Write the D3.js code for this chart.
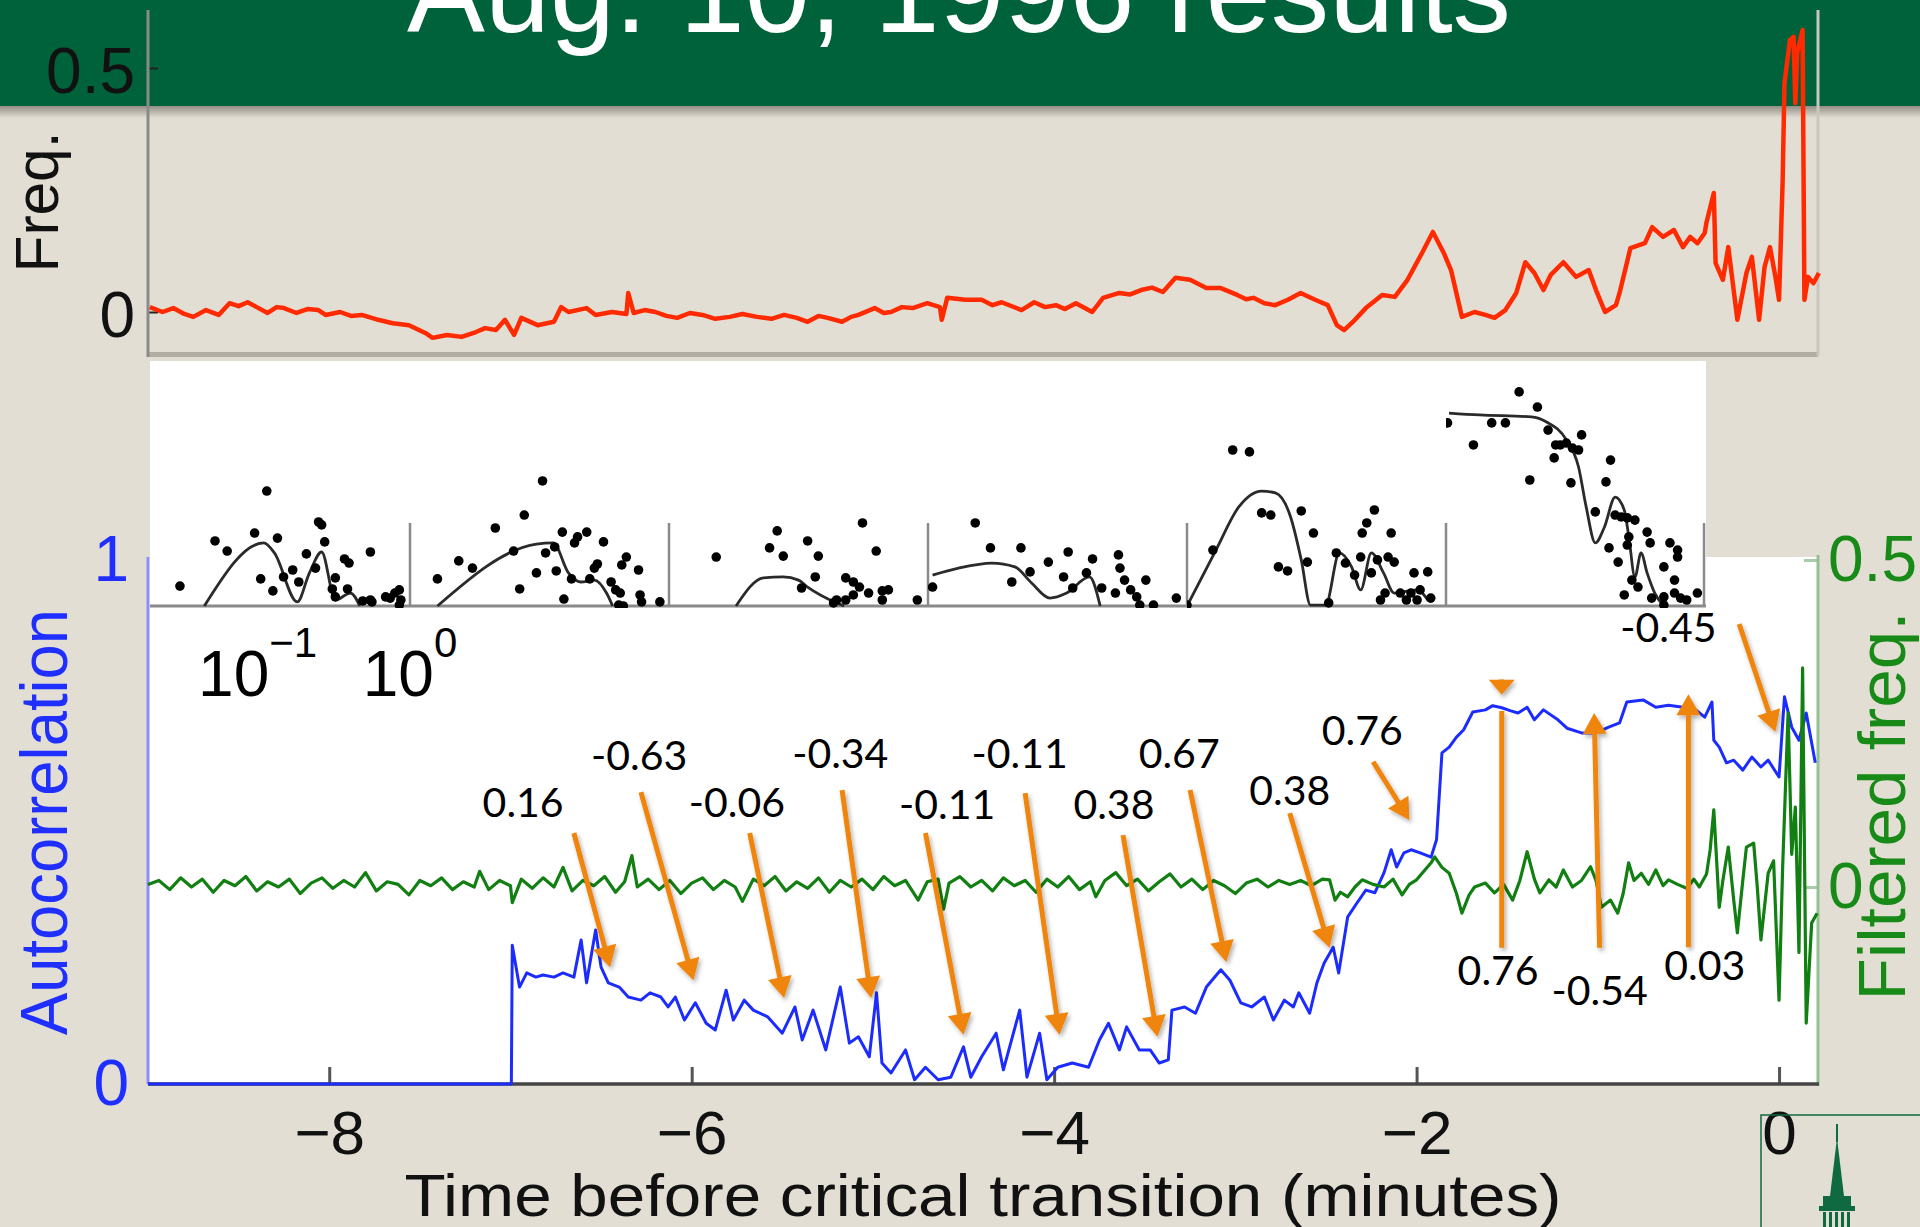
<!DOCTYPE html>
<html><head><meta charset="utf-8">
<script src="https://cdn.jsdelivr.net/npm/d3@7"></script>
<style>
html,body{margin:0;padding:0;background:#e3ded3;}
svg{display:block;}
</style></head><body>
<svg id="chart" width="1920" height="1227"></svg>
<script>
// ---------------- DATA ----------------
const titleText = "Aug. 10, 1996 results";
const xTicks = [-8, -6, -4, -2, 0];
const freqTicks = [0, 0.5];
const acTicks = [0, 1];
const filtTicks = [0, 0.5];

// top panel: frequency (red), [time (min), freq]
const freqSeries = [[-8.99,0.010],[-8.92,0.000],[-8.86,0.008],[-8.80,-0.004],[-8.75,-0.010],[-8.68,0.004],[-8.61,-0.006],[-8.55,0.018],[-8.50,0.012],[-8.45,0.020],[-8.40,0.010],[-8.34,-0.002],[-8.29,0.010],[-8.25,0.008],[-8.18,-0.002],[-8.12,0.006],[-8.06,0.004],[-8.02,-0.006],[-7.94,0.000],[-7.88,-0.008],[-7.82,-0.006],[-7.73,-0.016],[-7.65,-0.023],[-7.56,-0.027],[-7.47,-0.043],[-7.43,-0.053],[-7.35,-0.047],[-7.27,-0.051],[-7.19,-0.041],[-7.14,-0.033],[-7.08,-0.037],[-7.03,-0.016],[-6.98,-0.047],[-6.94,-0.012],[-6.85,-0.027],[-6.76,-0.020],[-6.72,0.010],[-6.68,0.000],[-6.58,0.008],[-6.53,-0.006],[-6.44,0.000],[-6.36,-0.004],[-6.35,0.039],[-6.32,-0.002],[-6.26,0.004],[-6.20,0.000],[-6.14,-0.008],[-6.08,-0.012],[-6.01,-0.002],[-5.94,-0.006],[-5.87,-0.014],[-5.79,-0.010],[-5.72,-0.004],[-5.64,-0.010],[-5.56,-0.014],[-5.49,-0.006],[-5.42,-0.012],[-5.36,-0.020],[-5.30,-0.008],[-5.25,-0.012],[-5.17,-0.020],[-5.12,-0.010],[-5.08,-0.006],[-4.99,0.008],[-4.94,-0.002],[-4.90,0.000],[-4.84,0.010],[-4.78,0.008],[-4.70,0.018],[-4.63,0.010],[-4.62,-0.016],[-4.59,0.029],[-4.49,0.025],[-4.40,0.025],[-4.34,0.014],[-4.29,0.020],[-4.18,0.004],[-4.11,0.020],[-4.05,0.010],[-3.99,0.014],[-3.94,0.006],[-3.88,0.018],[-3.79,0.000],[-3.73,0.029],[-3.64,0.039],[-3.58,0.036],[-3.52,0.045],[-3.46,0.050],[-3.40,0.041],[-3.33,0.070],[-3.25,0.066],[-3.16,0.049],[-3.08,0.049],[-2.99,0.035],[-2.94,0.026],[-2.90,0.029],[-2.84,0.018],[-2.78,0.014],[-2.71,0.025],[-2.64,0.039],[-2.56,0.025],[-2.49,0.014],[-2.44,-0.027],[-2.40,-0.037],[-2.34,-0.016],[-2.28,0.008],[-2.19,0.035],[-2.12,0.031],[-2.05,0.066],[-1.97,0.121],[-1.91,0.164],[-1.85,0.121],[-1.81,0.086],[-1.75,-0.010],[-1.68,0.000],[-1.62,-0.006],[-1.57,-0.012],[-1.51,0.004],[-1.45,0.039],[-1.40,0.102],[-1.35,0.080],[-1.30,0.045],[-1.26,0.076],[-1.19,0.102],[-1.12,0.072],[-1.05,0.086],[-1.01,0.045],[-0.96,0.000],[-0.90,0.014],[-0.88,0.039],[-0.82,0.131],[-0.74,0.141],[-0.70,0.174],[-0.64,0.154],[-0.58,0.168],[-0.53,0.133],[-0.49,0.154],[-0.45,0.141],[-0.41,0.162],[-0.40,0.184],[-0.36,0.244],[-0.35,0.100],[-0.31,0.066],[-0.28,0.133],[-0.23,-0.016],[-0.18,0.080],[-0.15,0.113],[-0.11,-0.016],[-0.08,0.092],[-0.05,0.133],[-0.02,0.072],[0.00,0.025],[0.02,0.270],[0.03,0.469],[0.06,0.557],[0.08,0.564],[0.09,0.428],[0.10,0.531],[0.13,0.578],[0.14,0.025],[0.16,0.072],[0.19,0.059],[0.22,0.080]];

// bottom panel: autocorrelation (blue), [time, autocorrelation]
const acSeries = [[-9.00,0],[-6.995,0],[-6.99,0.265],[-6.95,0.185],[-6.91,0.212],[-6.86,0.204],[-6.82,0.208],[-6.76,0.204],[-6.71,0.212],[-6.65,0.204],[-6.61,0.275],[-6.58,0.193],[-6.53,0.294],[-6.50,0.223],[-6.46,0.193],[-6.40,0.185],[-6.35,0.166],[-6.28,0.160],[-6.23,0.174],[-6.17,0.166],[-6.13,0.147],[-6.09,0.166],[-6.04,0.122],[-5.98,0.155],[-5.92,0.116],[-5.87,0.103],[-5.81,0.179],[-5.77,0.122],[-5.71,0.160],[-5.66,0.141],[-5.58,0.128],[-5.50,0.097],[-5.43,0.147],[-5.39,0.084],[-5.33,0.141],[-5.26,0.065],[-5.18,0.185],[-5.13,0.078],[-5.08,0.090],[-5.02,0.052],[-4.98,0.174],[-4.95,0.040],[-4.90,0.021],[-4.82,0.065],[-4.77,0.008],[-4.71,0.032],[-4.64,0.008],[-4.57,0.013],[-4.50,0.071],[-4.46,0.013],[-4.40,0.052],[-4.32,0.097],[-4.28,0.027],[-4.19,0.141],[-4.15,0.013],[-4.08,0.097],[-4.04,0.008],[-3.98,0.032],[-3.90,0.040],[-3.81,0.032],[-3.75,0.084],[-3.70,0.116],[-3.64,0.065],[-3.60,0.109],[-3.53,0.065],[-3.47,0.065],[-3.42,0.040],[-3.37,0.046],[-3.35,0.141],[-3.28,0.147],[-3.22,0.135],[-3.16,0.185],[-3.08,0.218],[-3.03,0.198],[-2.97,0.155],[-2.91,0.147],[-2.84,0.166],[-2.79,0.122],[-2.73,0.160],[-2.68,0.147],[-2.65,0.174],[-2.59,0.135],[-2.55,0.193],[-2.51,0.231],[-2.46,0.261],[-2.43,0.212],[-2.38,0.319],[-2.33,0.345],[-2.28,0.370],[-2.23,0.365],[-2.18,0.403],[-2.14,0.447],[-2.11,0.414],[-2.07,0.441],[-2.03,0.447],[-1.98,0.441],[-1.92,0.433],[-1.89,0.466],[-1.86,0.632],[-1.82,0.643],[-1.78,0.662],[-1.74,0.676],[-1.69,0.710],[-1.62,0.714],[-1.58,0.722],[-1.53,0.718],[-1.48,0.712],[-1.44,0.708],[-1.39,0.719],[-1.35,0.695],[-1.30,0.714],[-1.22,0.695],[-1.17,0.679],[-1.09,0.670],[-1.01,0.670],[-0.94,0.681],[-0.88,0.689],[-0.84,0.729],[-0.75,0.733],[-0.68,0.719],[-0.61,0.723],[-0.53,0.719],[-0.46,0.714],[-0.41,0.700],[-0.37,0.729],[-0.36,0.656],[-0.33,0.643],[-0.29,0.613],[-0.25,0.618],[-0.20,0.599],[-0.15,0.624],[-0.10,0.605],[-0.06,0.618],[0.00,0.586],[0.03,0.739],[0.07,0.681],[0.11,0.656],[0.15,0.708],[0.20,0.613]];

// bottom panel: filtered frequency (green), [time, filtered freq]
const filtSeries = [[-9.00,0.004],[-8.94,0.010],[-8.88,-0.004],[-8.82,0.014],[-8.76,0.000],[-8.70,0.012],[-8.64,-0.008],[-8.58,0.010],[-8.52,0.002],[-8.46,0.016],[-8.40,-0.006],[-8.34,0.008],[-8.28,0.000],[-8.22,0.012],[-8.16,-0.010],[-8.10,0.006],[-8.04,0.014],[-7.98,-0.002],[-7.92,0.010],[-7.86,0.000],[-7.80,0.022],[-7.74,-0.006],[-7.68,0.008],[-7.62,0.004],[-7.56,-0.012],[-7.50,0.010],[-7.44,0.002],[-7.38,0.014],[-7.32,-0.004],[-7.26,0.008],[-7.20,0.000],[-7.17,0.024],[-7.12,-0.004],[-7.06,0.010],[-7.00,0.002],[-6.99,-0.024],[-6.94,0.012],[-6.88,-0.002],[-6.82,0.014],[-6.76,0.000],[-6.71,0.030],[-6.66,-0.006],[-6.60,0.010],[-6.54,0.002],[-6.48,0.016],[-6.42,-0.008],[-6.37,0.008],[-6.33,0.048],[-6.30,0.000],[-6.24,0.012],[-6.18,-0.004],[-6.12,0.010],[-6.06,-0.010],[-6.00,0.006],[-5.94,0.014],[-5.88,-0.004],[-5.82,0.010],[-5.76,0.000],[-5.72,-0.022],[-5.66,0.012],[-5.60,0.002],[-5.54,0.016],[-5.48,-0.006],[-5.42,0.008],[-5.36,-0.002],[-5.30,0.014],[-5.24,-0.008],[-5.18,0.010],[-5.12,0.000],[-5.06,0.012],[-5.00,-0.004],[-4.94,0.016],[-4.88,0.002],[-4.82,0.010],[-4.75,-0.020],[-4.70,0.008],[-4.64,0.012],[-4.61,-0.034],[-4.58,0.006],[-4.52,0.016],[-4.46,0.000],[-4.40,0.010],[-4.34,-0.006],[-4.28,0.014],[-4.22,0.002],[-4.16,0.010],[-4.10,-0.008],[-4.04,0.012],[-3.98,0.000],[-3.92,0.016],[-3.86,-0.004],[-3.80,0.008],[-3.77,-0.015],[-3.72,0.010],[-3.66,0.022],[-3.60,0.002],[-3.54,0.012],[-3.48,-0.006],[-3.42,0.008],[-3.36,0.020],[-3.30,0.000],[-3.24,0.012],[-3.18,-0.004],[-3.12,0.010],[-3.06,0.002],[-3.00,-0.010],[-2.94,0.006],[-2.88,0.012],[-2.82,0.000],[-2.76,0.010],[-2.70,0.004],[-2.64,0.010],[-2.58,0.002],[-2.52,0.012],[-2.48,0.011],[-2.45,-0.020],[-2.42,-0.008],[-2.38,-0.015],[-2.34,0.000],[-2.30,0.011],[-2.24,0.004],[-2.18,0.000],[-2.13,0.012],[-2.08,-0.012],[-2.04,0.004],[-2.00,0.011],[-1.96,0.024],[-1.92,0.037],[-1.90,0.046],[-1.86,0.030],[-1.82,0.021],[-1.78,-0.010],[-1.75,-0.040],[-1.71,-0.012],[-1.68,0.000],[-1.62,0.006],[-1.57,-0.009],[-1.52,0.004],[-1.47,-0.020],[-1.43,0.010],[-1.39,0.054],[-1.35,0.012],[-1.32,-0.009],[-1.27,0.011],[-1.23,0.000],[-1.19,0.026],[-1.14,0.000],[-1.09,0.010],[-1.04,0.031],[-1.01,0.010],[-0.98,-0.031],[-0.93,-0.020],[-0.89,-0.040],[-0.86,-0.010],[-0.83,0.037],[-0.80,0.010],[-0.76,0.021],[-0.72,0.004],[-0.68,0.026],[-0.64,0.002],[-0.61,0.011],[-0.56,0.004],[-0.51,-0.002],[-0.47,0.012],[-0.44,0.000],[-0.40,0.020],[-0.38,0.057],[-0.36,0.118],[-0.33,-0.031],[-0.31,0.010],[-0.28,0.061],[-0.25,-0.020],[-0.23,-0.070],[-0.20,0.010],[-0.18,0.061],[-0.14,0.067],[-0.12,0.000],[-0.10,-0.081],[-0.06,0.021],[-0.03,0.040],[0.00,-0.173],[0.02,0.031],[0.05,0.266],[0.07,0.050],[0.09,0.122],[0.11,-0.100],[0.13,0.335],[0.15,-0.208],[0.18,-0.055],[0.21,-0.040]];

// inset ACF panels: [log10(lag), acf]
const dotsPanel1 = [[-1.51,0.083],[-1.28,0.271],[-1.20,0.229],[-1.02,0.304],[-0.94,0.479],[-0.87,0.283],[-0.98,0.113],[-0.90,0.063],[-0.83,0.121],[-0.77,0.150],[-0.73,0.100],[-0.68,0.217],[-0.60,0.350],[-0.58,0.338],[-0.56,0.267],[-0.62,0.158],[-0.51,0.071],[-0.49,0.117],[-0.43,0.196],[-0.40,0.179],[-0.41,0.071],[-0.49,0.038],[-0.26,0.225],[-0.31,0.021],[-0.26,0.025],[-0.16,0.038],[-0.10,0.054],[-0.07,0.067],[-0.07,0.004],[-0.13,0.033],[-0.25,0.017],[-0.06,0.025]];
const fitPanel1 = [[-1.35,0],[-0.96,0.263],[-0.89,0.221],[-0.74,0.017],[-0.66,0.138],[-0.58,0.225],[-0.49,0.025],[-0.39,0.054],[-0.33,0]];
const dotsPanel2 = [[-1.52,0.113],[-1.38,0.188],[-1.29,0.158],[-1.14,0.325],[-1.02,0.229],[-0.95,0.379],[-0.83,0.521],[-0.98,0.071],[-0.87,0.138],[-0.81,0.221],[-0.74,0.146],[-0.70,0.308],[-0.75,0.246],[-0.62,0.263],[-0.60,0.288],[-0.54,0.308],[-0.43,0.267],[-0.64,0.113],[-0.52,0.113],[-0.47,0.175],[-0.31,0.171],[-0.28,0.204],[-0.20,0.150],[-0.38,0.100],[-0.35,0.067],[-0.32,0.054],[-0.33,0.004],[-0.30,0.000],[-0.19,0.046],[-0.18,0.017],[-0.06,0.017],[-0.69,0.029],[-0.49,0.158]];
const fitPanel2 = [[-1.52,0],[-0.87,0.258],[-0.76,0.263],[-0.66,0.138],[-0.58,0.100],[-0.49,0.108],[-0.41,0.054],[-0.37,0]];
const dotsPanel3 = [[-1.39,0.204],[-0.99,0.313],[-1.04,0.242],[-0.95,0.208],[-0.79,0.271],[-0.72,0.208],[-0.74,0.121],[-0.62,0.013],[-0.43,0.346],[-0.34,0.229],[-0.54,0.117],[-0.49,0.100],[-0.45,0.079],[-0.60,0.025],[-0.39,0.054],[-0.30,0.025],[-0.26,0.067],[-0.07,0.025],[-0.49,0.046],[-0.83,0.075],[-0.54,0.025],[-0.30,0.063]];
const fitPanel3 = [[-1.26,0],[-1.08,0.117],[-0.95,0.121],[-0.85,0.108],[-0.79,0.079],[-0.60,0.013],[-0.55,0]];
const dotsPanel4 = [[-1.67,0.079],[-1.39,0.346],[-1.29,0.242],[-1.09,0.242],[-1.15,0.100],[-1.03,0.142],[-0.91,0.183],[-0.81,0.121],[-0.78,0.225],[-0.75,0.075],[-0.66,0.138],[-0.62,0.196],[-0.56,0.075],[-0.45,0.213],[-0.44,0.158],[-0.41,0.108],[-0.37,0.067],[-0.33,0.038],[-0.27,0.108],[-0.31,0.004],[-0.22,0.004],[-0.07,0.033],[-0.47,0.054]];
const fitPanel4 = [[-1.67,0.129],[-1.50,0.158],[-1.28,0.179],[-1.13,0.163],[-1.02,0.096],[-0.90,0.033],[-0.79,0.054],[-0.64,0.121],[-0.57,0]];
const dotsPanel5 = [[-1.70,0.004],[-1.53,0.233],[-1.40,0.650],[-1.29,0.642],[-1.21,0.388],[-1.15,0.379],[-0.95,0.396],[-0.87,0.304],[-0.91,0.183],[-1.10,0.163],[-1.04,0.146],[-0.77,0.013],[-0.72,0.221],[-0.66,0.179],[-0.56,0.204],[-0.55,0.304],[-0.52,0.346],[-0.47,0.400],[-0.45,0.192],[-0.36,0.304],[-0.38,0.204],[-0.34,0.183],[-0.60,0.129],[-0.49,0.138],[-0.40,0.054],[-0.30,0.054],[-0.23,0.054],[-0.21,0.138],[-0.17,0.067],[-0.12,0.142],[-0.10,0.033],[-0.19,0.025],[-0.43,0.025],[-0.26,0.025]];
const fitPanel5 = [[-1.70,0],[-1.51,0.233],[-1.36,0.413],[-1.21,0.479],[-1.12,0.471],[-1.02,0.371],[-0.95,0.192],[-0.89,0.004],[-0.79,0.004],[-0.70,0.221],[-0.62,0.163],[-0.56,0.067],[-0.49,0.221],[-0.41,0.138],[-0.34,0.054],[-0.19,0.067],[-0.12,0.025]];
const dotsPanel6 = [[-1.69,0.763],[-1.52,0.671],[-1.40,0.763],[-1.31,0.763],[-1.22,0.892],[-1.10,0.829],[-1.03,0.733],[-0.98,0.671],[-0.95,0.671],[-0.91,0.679],[-0.81,0.713],[-0.87,0.658],[-0.99,0.617],[-1.15,0.525],[-0.88,0.513],[-0.83,0.650],[-0.72,0.392],[-0.65,0.517],[-0.62,0.608],[-0.59,0.379],[-0.55,0.371],[-0.51,0.367],[-0.46,0.358],[-0.38,0.308],[-0.50,0.288],[-0.63,0.242],[-0.51,0.254],[-0.36,0.263],[-0.23,0.263],[-0.18,0.233],[-0.18,0.204],[-0.57,0.183],[-0.27,0.163],[-0.20,0.108],[-0.48,0.108],[-0.53,0.046],[-0.44,0.079],[-0.35,0.033],[-0.27,0.038],[-0.20,0.054],[-0.16,0.033],[-0.12,0.025],[-0.05,0.054],[-0.27,0.004]];
const fitPanel6 = [[-1.68,0.804],[-1.48,0.796],[-1.14,0.788],[-1.04,0.767],[-0.91,0.692],[-0.83,0.579],[-0.78,0.413],[-0.72,0.263],[-0.66,0.329],[-0.59,0.454],[-0.53,0.400],[-0.50,0.288],[-0.46,0.121],[-0.42,0.221],[-0.38,0.138],[-0.33,0.054],[-0.27,0]];
const insetLabelExps = [-1, 0];

// orange annotations (time, autocorrelation coordinates)
const annLabels = ["0.16","-0.63","-0.06","-0.34","-0.11","-0.11","0.38","0.67","0.38","0.76","0.76","-0.54","0.03","-0.45"];
const annTextAt = [[-6.93,0.538],[-6.29,0.628],[-5.75,0.538],[-5.18,0.632],[-4.59,0.534],[-4.19,0.632],[-3.67,0.534],[-3.31,0.632],[-2.70,0.561],[-2.30,0.676],[-1.55,0.218],[-0.99,0.179],[-0.41,0.227],[-0.61,0.872]];
const annFrom = [[-6.65,0.479],[-6.28,0.557],[-5.68,0.479],[-5.17,0.561],[-4.71,0.479],[-4.16,0.555],[-3.62,0.475],[-3.25,0.561],[-2.70,0.517],[-2.24,0.615],[-1.53,0.260],[-0.99,0.260],[-0.50,0.261],[-0.22,0.878]];
const annTo = [[-6.45,0.223],[-5.99,0.198],[-5.49,0.164],[-5.01,0.164],[-4.50,0.094],[-3.97,0.094],[-3.43,0.090],[-3.05,0.233],[-2.48,0.260],[-2.04,0.504],[-1.53,0.712],[-1.02,0.708],[-0.50,0.744],[-0.02,0.672]];
const annHasHead = [1,1,1,1,1,1,1,1,1,1,0,1,1,1];
const annLoneHeadFrom = [[-1.53,0.772]];
const annLoneHeadTo = [[-1.53,0.743]];

// ---------------- DRAWING ----------------
const SANS = "'Liberation Sans', Arial, Helvetica, sans-serif";
const svg = d3.select("#chart");
const defs = svg.append("defs");

svg.append("rect").attr("width",1920).attr("height",1227).attr("fill","#e3ded3");

// title bar
const sg = defs.append("linearGradient").attr("id","barShadow").attr("x1",0).attr("x2",0).attr("y1",0).attr("y2",1);
sg.append("stop").attr("offset","0%").attr("stop-color","#8c887f");
sg.append("stop").attr("offset","100%").attr("stop-color","#e3ded3");
svg.append("rect").attr("x",0).attr("y",105).attr("width",1920).attr("height",13).attr("fill","url(#barShadow)");
svg.append("rect").attr("x",0).attr("y",0).attr("width",1920).attr("height",106).attr("fill","#00623a");
svg.append("text").attr("x",407).attr("y",32).attr("fill","#ffffff")
  .attr("font-family",SANS).attr("font-size",117)
  .attr("textLength",1104).attr("lengthAdjust","spacingAndGlyphs").text(titleText);

const fs = defs.append("filter").attr("id","dshadow").attr("x","-20%").attr("y","-20%").attr("width","140%").attr("height","140%");
fs.append("feDropShadow").attr("dx",2).attr("dy",3).attr("stdDeviation",2).attr("flood-color","#000").attr("flood-opacity",0.3);

// scales
const x = d3.scaleLinear().domain([-9, 0.215]).range([148, 1818]);
const yFreq = d3.scaleLinear().domain([0, 0.5]).range([312, 68]);
const yAc = d3.scaleLinear().domain([0, 1]).range([1084, 560]);
const yFilt = d3.scaleLinear().domain([0, 0.5]).range([887, 560]);

// ---- top panel ----
svg.append("rect").attr("x",148).attr("y",352).attr("width",1670).attr("height",5).attr("fill","#b2ada3");
svg.append("line").attr("x1",1818).attr("x2",1818).attr("y1",10).attr("y2",356).attr("stroke","#c8c6c0").attr("stroke-width",3);
const gF = svg.append("g").attr("transform","translate(148,0)")
  .call(d3.axisLeft(yFreq).tickValues(freqTicks).tickSize(-10).tickPadding(13).tickFormat(d3.format("")));
gF.select(".domain").remove();
gF.selectAll(".tick line").attr("stroke","#222").attr("stroke-width",2);
gF.selectAll(".tick text").attr("font-size",64).attr("font-family",SANS).attr("fill","#111").attr("dy","0.38em");
svg.append("line").attr("x1",148).attr("x2",148).attr("y1",10).attr("y2",357).attr("stroke","#8a8a8a").attr("stroke-width",3);
svg.append("text").attr("transform","translate(58,202) rotate(-90)").attr("text-anchor","middle")
  .attr("font-family",SANS).attr("font-size",62).attr("fill","#111")
  .attr("textLength",141).attr("lengthAdjust","spacingAndGlyphs").text("Freq.");

const lineF = d3.line().x(d => x(d[0])).y(d => yFreq(d[1]));
svg.append("path").datum(freqSeries).attr("d",lineF).attr("fill","none").attr("stroke","#ff2a00").attr("stroke-width",4.5).attr("stroke-linejoin","round");

// ---- bottom panel ----
svg.append("rect").attr("x",148).attr("y",557).attr("width",1670).attr("height",527).attr("fill","#ffffff");

// inset
const panelW = 259, panelL0 = 151;
const insetY = d3.scaleLinear().domain([0,1]).range([606,366]);
svg.append("rect").attr("x",150).attr("y",361).attr("width",1556).attr("height",246).attr("fill","#ffffff");
const dotsAll = [dotsPanel1,dotsPanel2,dotsPanel3,dotsPanel4,dotsPanel5,dotsPanel6];
const fitsAll = [fitPanel1,fitPanel2,fitPanel3,fitPanel4,fitPanel5,fitPanel6];
const panelScales = dotsAll.map((_, i) => d3.scaleLinear().domain([-1.7, 0]).range([panelL0 + panelW*i, panelL0 + panelW*(i+1)]));
svg.append("line").attr("x1",150).attr("x2",1706).attr("y1",606).attr("y2",606).attr("stroke","#8a8a8a").attr("stroke-width",3);
panelScales.forEach((ps, i) => {
  if (i > 0) svg.append("line").attr("x1",ps.range()[0]).attr("x2",ps.range()[0]).attr("y1",523).attr("y2",606).attr("stroke","#8a8a8a").attr("stroke-width",2.5);
  defs.append("clipPath").attr("id","pc"+i).append("rect").attr("x",ps.range()[0]).attr("y",361).attr("width",panelW).attr("height",247);
  const g = svg.append("g").attr("clip-path","url(#pc"+i+")");
  g.append("path").datum(fitsAll[i]).attr("d", d3.line().curve(d3.curveMonotoneX).x(d=>ps(d[0])).y(d=>insetY(d[1])))
    .attr("fill","none").attr("stroke","#2a2a2a").attr("stroke-width",2.8);
  g.selectAll("circle").data(dotsAll[i]).join("circle").attr("cx",d=>ps(d[0])).attr("cy",d=>insetY(d[1])).attr("r",4.8).attr("fill","#000");
});
svg.append("line").attr("x1",1704).attr("x2",1704).attr("y1",523).attr("y2",607).attr("stroke","#8a8a8a").attr("stroke-width",2.5);
insetLabelExps.forEach(e => {
  const t = svg.append("text").attr("x",panelScales[0](e)).attr("y",696).attr("text-anchor","middle")
    .attr("font-family",SANS).attr("font-size",64).attr("fill","#000");
  t.append("tspan").text("10");
  t.append("tspan").attr("font-size",42).attr("dy",-39).text(e < 0 ? "\u2212" + Math.abs(e) : String(e));
});

// axes
const gX = svg.append("g").attr("transform","translate(0,1084)")
  .call(d3.axisBottom(x).tickValues(xTicks).tickSizeInner(-17).tickSizeOuter(0).tickPadding(25).tickFormat(d3.format("")));
gX.select(".domain").remove();
gX.selectAll(".tick line").attr("stroke","#555").attr("stroke-width",3);
gX.selectAll(".tick text").attr("font-size",62).attr("font-family",SANS).attr("fill","#111").attr("dy","0.72em");

const gA = svg.append("g").attr("transform","translate(148,0)")
  .call(d3.axisLeft(yAc).tickValues(acTicks).tickSize(0).tickPadding(19).tickFormat(d3.format("")));
gA.select(".domain").remove();
gA.selectAll(".tick text").attr("font-size",64).attr("font-family",SANS).attr("fill","#1f2fff");

const gG = svg.append("g").attr("transform","translate(1818,0)")
  .call(d3.axisRight(yFilt).tickValues(filtTicks).tickSize(-14).tickPadding(10).tickFormat(d3.format("")));
gG.select(".domain").remove();
gG.selectAll(".tick line").attr("stroke","#a8cca8").attr("stroke-width",3);
gG.selectAll(".tick text").attr("font-size",64).attr("font-family",SANS).attr("fill","#178a17");

svg.append("line").attr("x1",148).attr("x2",148).attr("y1",557).attr("y2",1084).attr("stroke","#8c8cff").attr("stroke-width",3);
svg.append("line").attr("x1",1818).attr("x2",1818).attr("y1",555).attr("y2",1086).attr("stroke","#92c292").attr("stroke-width",3);

// series
const lineA = d3.line().x(d => x(d[0])).y(d => yAc(d[1]));
const lineG = d3.line().x(d => x(d[0])).y(d => yFilt(d[1]));
svg.append("line").attr("x1",148).attr("x2",1819).attr("y1",1084).attr("y2",1084).attr("stroke","#454545").attr("stroke-width",3.5);
svg.append("path").datum(acSeries).attr("d",lineA).attr("fill","none").attr("stroke","#1c2cff").attr("stroke-width",3).attr("stroke-linejoin","round");
svg.append("path").datum(filtSeries).attr("d",lineG).attr("fill","none").attr("stroke","#127f12").attr("stroke-width",3.2).attr("stroke-linejoin","round");

// axis titles
svg.append("text").attr("transform","translate(67,822) rotate(-90)").attr("text-anchor","middle")
  .attr("font-family",SANS).attr("font-size",66).attr("fill","#1f2fff")
  .attr("textLength",426).attr("lengthAdjust","spacingAndGlyphs").text("Autocorrelation");
svg.append("text").attr("transform","translate(1905,806) rotate(-90)").attr("text-anchor","middle")
  .attr("font-family",SANS).attr("font-size",66).attr("fill","#178a17")
  .attr("textLength",389).attr("lengthAdjust","spacingAndGlyphs").text("Filtered freq.");
svg.append("text").attr("x",983).attr("y",1216).attr("text-anchor","middle")
  .attr("font-family",SANS).attr("font-size",60).attr("fill","#111")
  .attr("textLength",1157).attr("lengthAdjust","spacingAndGlyphs").text("Time before critical transition (minutes)");

// annotations
const ORANGE = "#f0850f";
const gAnn = svg.append("g").attr("filter","url(#dshadow)");
function arrow(p1, p2, head, hl, hw) {
  const x1 = x(p1[0]), y1 = yAc(p1[1]), x2 = x(p2[0]), y2 = yAc(p2[1]);
  const ang = Math.atan2(y2 - y1, x2 - x1), len = Math.hypot(x2 - x1, y2 - y1);
  const c = Math.cos(ang), s = Math.sin(ang);
  if (!head) {
    gAnn.append("line").attr("x1",x1).attr("y1",y1).attr("x2",x2).attr("y2",y2).attr("stroke",ORANGE).attr("stroke-width",5);
    return;
  }
  if (len > hl) {
    gAnn.append("line").attr("x1",x1).attr("y1",y1).attr("x2",x2 - (hl-2)*c).attr("y2",y2 - (hl-2)*s).attr("stroke",ORANGE).attr("stroke-width",5);
  }
  const bx = x2 - hl*c, by = y2 - hl*s;
  gAnn.append("polygon").attr("points",[[x2,y2],[bx - hw*s, by + hw*c],[bx + hw*s, by - hw*c]].map(p=>p.join(",")).join(" ")).attr("fill",ORANGE);
}
annLabels.forEach((lab, i) => {
  arrow(annFrom[i], annTo[i], annHasHead[i] === 1, 21, 12);
});
annLoneHeadFrom.forEach((p, i) => arrow(p, annLoneHeadTo[i], true, 15, 13));
annLabels.forEach((lab, i) => {
  svg.append("text").attr("x",x(annTextAt[i][0])).attr("y",yAc(annTextAt[i][1]) + 15).attr("text-anchor","middle")
    .attr("font-family","Lato, 'Open Sans', sans-serif").attr("font-size",41).attr("fill","#000").text(lab);
});

// logo corner
const LG = "#0f6a42";
svg.append("path").attr("d","M1761,1227 L1761,1115 L1920,1115").attr("fill","none").attr("stroke",LG).attr("stroke-width",1.5);
svg.append("line").attr("x1",1837).attr("x2",1837).attr("y1",1124).attr("y2",1142).attr("stroke",LG).attr("stroke-width",2);
svg.append("path").attr("d","M1837,1138 L1844,1196 L1830,1196 Z").attr("fill",LG);
svg.append("rect").attr("x",1823).attr("y",1196).attr("width",28).attr("height",10).attr("fill",LG);
svg.append("rect").attr("x",1819).attr("y",1206).attr("width",36).attr("height",5).attr("fill",LG);
[1823,1829,1835,1841,1847].forEach(cx => svg.append("rect").attr("x",cx).attr("y",1212).attr("width",3).attr("height",15).attr("fill",LG));
</script>
</body></html>
